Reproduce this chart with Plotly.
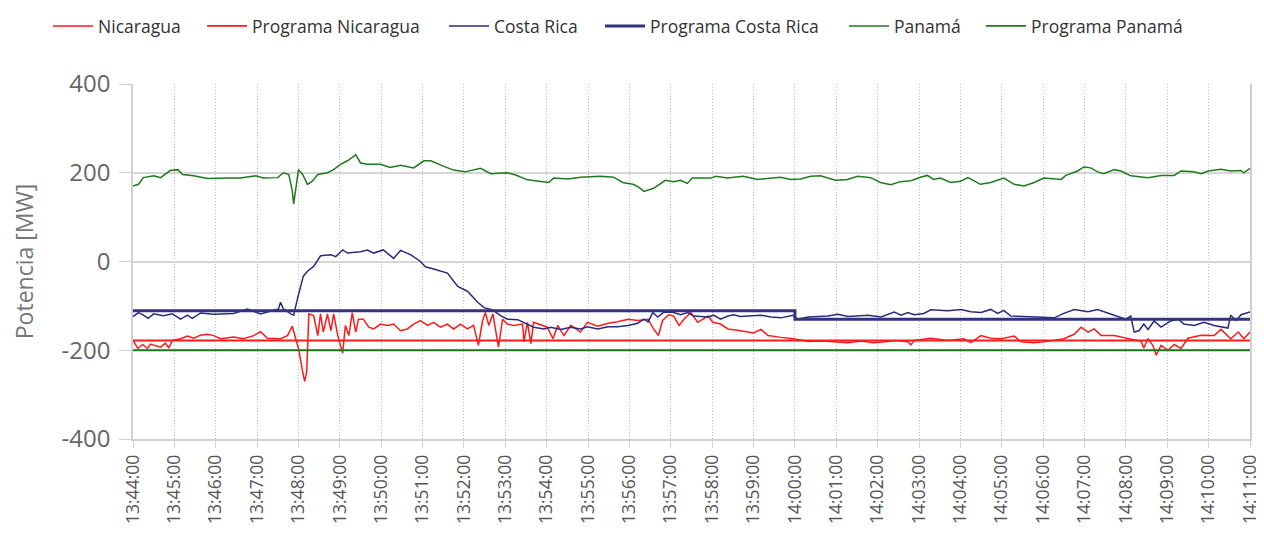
import pandas as pd
import plotly.graph_objects as go

BASE = pd.Timestamp("2020-01-01 13:44:00")

# --- data (seconds after 13:44:00, MW) ---
nic_t = [0, 7, 14, 21, 25, 33, 40, 47, 52, 57, 69, 79, 88, 98, 108, 117, 127, 146, 160, 175,
         185, 195, 214, 224, 231, 236, 240, 246, 249, 252, 255, 262, 268, 272, 276, 282, 287,
         291, 297, 304, 308, 313, 318, 323, 327, 334, 342, 349, 359, 369, 378, 388, 398, 407,
         417, 427, 436, 446, 456, 465, 475, 485, 494, 501, 507, 511, 516, 522, 526, 530, 536,
         543, 552, 565, 567, 572, 577, 581, 601, 609, 616, 625, 635, 649, 659, 674, 689, 703,
         718, 732, 747, 755, 762, 768, 777, 784, 792, 799, 809, 819, 834, 841, 852, 863, 881,
         900, 911, 921, 940, 958, 979, 998, 1016, 1037, 1056, 1074, 1095, 1104, 1124, 1128,
         1133, 1157, 1182, 1205, 1215, 1230, 1244, 1259, 1278, 1288, 1307, 1327, 1350, 1365,
         1375, 1385, 1394, 1404, 1423, 1443, 1462, 1466, 1472, 1479, 1484, 1491, 1501, 1510,
         1520, 1530, 1549, 1568, 1578, 1592, 1603, 1611, 1620]
nic_v = [-178, -196, -187, -196, -186, -190, -193, -184, -195, -178, -174, -168, -173, -166, -164,
         -167, -174, -170, -174, -167, -158, -173, -174, -167, -146, -174, -196, -248, -270, -248,
         -118, -122, -167, -118, -159, -118, -156, -118, -167, -207, -144, -167, -115, -159, -130,
         -130, -148, -152, -141, -144, -141, -156, -152, -141, -133, -144, -137, -148, -141, -152,
         -141, -152, -144, -189, -133, -115, -144, -118, -152, -193, -130, -141, -144, -141, -181,
         -137, -185, -137, -148, -174, -144, -167, -144, -159, -137, -146, -139, -136, -130, -133,
         -130, -152, -167, -133, -120, -123, -144, -130, -115, -137, -123, -137, -141, -152, -156,
         -161, -153, -167, -171, -174, -180, -179, -181, -183, -179, -183, -180, -178, -181, -188,
         -178, -173, -178, -174, -183, -167, -173, -174, -168, -181, -183, -180, -174, -164, -148,
         -159, -152, -167, -167, -174, -180, -195, -174, -189, -211, -189, -200, -187, -196, -173,
         -166, -167, -153, -174, -159, -174, -159]

nic_prog_t = [0, 1620]
nic_prog_v = [-178, -178]

cr_t = [0, 8, 15, 22, 30, 44, 57, 69, 79, 86, 98, 117, 146, 166, 185, 204, 211, 214, 218, 229,
        233, 239, 243, 247, 253, 262, 272, 287, 294, 304, 311, 330, 340, 349, 363, 378, 388, 403,
        417, 424, 436, 456, 471, 485, 500, 509, 519, 523, 533, 543, 558, 572, 581, 596, 606, 620,
        635, 649, 659, 674, 689, 703, 718, 732, 741, 747, 754, 761, 770, 784, 794, 805, 813, 834,
        842, 852, 863, 871, 881, 892, 911, 925, 940, 957, 964, 979, 1008, 1022, 1037, 1066, 1085,
        1104, 1114, 1124, 1133, 1147, 1157, 1182, 1201, 1215, 1230, 1244, 1254, 1263, 1273, 1292,
        1317, 1336, 1350, 1365, 1385, 1399, 1423, 1440, 1447, 1452, 1459, 1466, 1472, 1481, 1491,
        1505, 1516, 1524, 1539, 1553, 1568, 1588, 1592, 1600, 1607, 1620]
cr_v = [-124, -115, -121, -128, -118, -122, -118, -130, -121, -128, -116, -119, -117, -107, -118,
        -111, -107, -92, -107, -118, -121, -81, -56, -33, -22, -11, 13, 15, 11, 26, 19, 22, 26, 19,
        26, 7, 25, 15, 0, -12, -17, -26, -56, -67, -92, -104, -108, -111, -122, -130, -131, -141,
        -148, -152, -148, -153, -148, -152, -147, -152, -147, -147, -144, -139, -130, -136, -115,
        -125, -114, -115, -120, -115, -123, -125, -121, -130, -123, -120, -124, -123, -121, -125,
        -127, -121, -130, -125, -123, -119, -124, -121, -125, -114, -121, -115, -120, -117, -109,
        -111, -108, -113, -115, -108, -117, -110, -123, -124, -125, -127, -117, -108, -113, -108,
        -121, -130, -123, -159, -156, -141, -153, -134, -148, -134, -130, -141, -144, -137, -144,
        -150, -121, -133, -120, -114]

cr_prog_t = [0, 960, 960, 1620]
cr_prog_v = [-111, -111, -130, -130]

pan_t = [0, 8, 15, 30, 40, 54, 65, 72, 88, 108, 137, 156, 178, 189, 210, 218, 226, 231, 233, 236,
         240, 246, 253, 260, 268, 282, 291, 301, 311, 320, 323, 330, 340, 359, 373, 388, 407, 422,
         432, 450, 465, 482, 504, 519, 543, 555, 572, 603, 610, 631, 649, 678, 697, 710, 725, 734,
         741, 755, 772, 784, 794, 804, 811, 838, 845, 862, 885, 906, 939, 954, 968, 983, 997, 1019,
         1036, 1051, 1070, 1084, 1099, 1113, 1128, 1142, 1152, 1161, 1171, 1186, 1200, 1211, 1229,
         1244, 1263, 1278, 1292, 1307, 1321, 1346, 1353, 1370, 1379, 1389, 1399, 1408, 1423, 1433,
         1447, 1472, 1491, 1510, 1520, 1539, 1549, 1559, 1578, 1592, 1607, 1611, 1620]
pan_v = [170, 174, 189, 193, 189, 205, 207, 196, 193, 187, 188, 188, 193, 188, 189, 200, 196, 159,
         130, 159, 207, 196, 174, 181, 196, 200, 207, 219, 227, 237, 241, 222, 219, 219, 212, 217,
         211, 227, 227, 215, 206, 202, 210, 198, 200, 195, 184, 178, 188, 186, 190, 192, 190, 178,
         174, 167, 158, 165, 183, 180, 183, 176, 188, 188, 192, 188, 192, 185, 190, 185, 186, 192,
         193, 183, 185, 192, 189, 178, 173, 180, 182, 190, 194, 185, 188, 178, 181, 189, 174, 178,
         188, 174, 170, 178, 188, 185, 194, 204, 213, 211, 202, 198, 207, 204, 193, 189, 194, 194,
         204, 202, 198, 204, 208, 204, 205, 200, 210]

pan_prog_t = [0, 1620]
pan_prog_v = [-200, -200]

x_start, x_end = 0, 1620
y_ticks = [-400, -200, 0, 200, 400]
y_tick_text = ["-400", "-200", "0", "200", "400"]


def to_time(sec_list):
    return [BASE + pd.Timedelta(seconds=s) for s in sec_list]


RED = "#ff1a1a"
NAVY = "#2b2b7e"
GREEN = "#1f7a1f"

series = [
    ("Nicaragua", nic_t, nic_v, RED, 1.5),
    ("Programa Nicaragua", nic_prog_t, nic_prog_v, RED, 1.8),
    ("Costa Rica", cr_t, cr_v, NAVY, 1.5),
    ("Programa Costa Rica", cr_prog_t, cr_prog_v, "#33337f", 3),
    ("Panamá", pan_t, pan_v, GREEN, 1.5),
    ("Programa Panamá", pan_prog_t, pan_prog_v, GREEN, 1.8),
]
legend_x = [0.0319, 0.1545, 0.3471, 0.4713, 0.6656, 0.7747]

W, H = 1256, 535
FONT = "Open Sans, Noto Sans, sans-serif"

fig = go.Figure()
layout_legends = {}
for i, ((name, t, v, col, w), lx) in enumerate(zip(series, legend_x)):
    key = "legend" if i == 0 else f"legend{i + 1}"
    fig.add_trace(go.Scatter(x=to_time(t), y=v, mode="lines", name=name,
                             line=dict(color=col, width=w), legend=key,
                             showlegend=True))
    layout_legends[key] = dict(
        orientation="h", xref="container", yref="container",
        x=lx, xanchor="left", y=1.0, yanchor="top",
        font=dict(size=17.5, color="#333333", family=FONT), itemwidth=40,
        bgcolor="rgba(0,0,0,0)", visible=True)

fig.update_layout(
    width=W, height=H,
    margin=dict(l=125, r=14, t=76, b=104),
    paper_bgcolor="white", plot_bgcolor="white",
    font=dict(family=FONT, color="#555555"),
    showlegend=True,
    **layout_legends,
)
fig.update_xaxes(
    type="date", automargin=False,
    range=[to_time([x_start])[0], to_time([x_end])[0]],
    dtick=60000, tick0=to_time([x_start])[0],
    tickformat="%H:%M:%S", tickangle=-90,
    tickfont=dict(size=17.5, color="#555555"),
    showgrid=True, gridcolor="#bdbdbd", griddash="1px,2px", gridwidth=1,
    showline=True, linecolor="#d0d0d0", linewidth=1.5,
    ticks="outside", ticklen=7, tickcolor="#d0d0d0",
    zeroline=False,
)
fig.update_yaxes(
    range=[-400, 400], tickvals=y_ticks, ticktext=y_tick_text, automargin=False,
    tickfont=dict(size=24, color="#666666"),
    title=dict(text="Potencia [MW]", font=dict(size=23, color="#777777"), standoff=32),
    showgrid=True, gridcolor="#d6d6d6", gridwidth=1.5,
    showline=True, linecolor="#d0d0d0", linewidth=1.5, mirror=True,
    ticks="outside", ticklen=12, tickcolor="#d0d0d0", ticklabelstandoff=4,
    zeroline=False,
)

fig.write_html("out.html")
